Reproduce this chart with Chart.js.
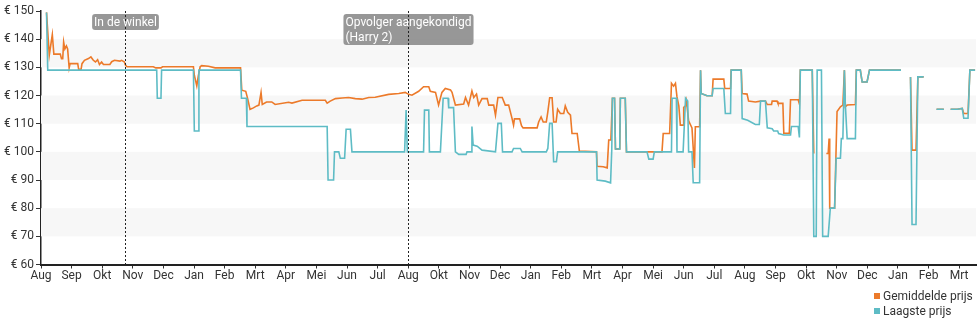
<!DOCTYPE html>
<html>
<head>
<meta charset="utf-8">
<script src="https://cdn.jsdelivr.net/npm/chart.js@4"></script>
<style>
  body { margin: 0; background: #fff; }
  #wrap { position: relative; width: 980px; height: 325px; }
  #legend {
    position: absolute; left: 874px; top: 289px;
    font: 12px Roboto, sans-serif; color: #333; line-height: 15px;
  }
  #legend span.sw { display: inline-block; width: 6px; height: 6px; margin-right: 3px; vertical-align: 1px; }
</style>
</head>
<body>
<div id="wrap">
  <canvas id="priceChart"></canvas>
  <div id="legend"></div>
</div>
<script>
// Maandlabels onder de as (één per tick)
const monthLabels = ['Aug','Sep','Okt','Nov','Dec','Jan','Feb','Mrt','Apr','Mei','Jun','Jul',
  'Aug','Okt','Nov','Dec','Jan','Feb','Mrt','Apr','Mei','Jun','Jul',
  'Aug','Sep','Okt','Nov','Dec','Jan','Feb','Mrt'];

const seriesNames = ['Gemiddelde prijs', 'Laagste prijs'];

// [maand-index, prijs in euro]; null = geen prijs bekend
const avgPrices = [
  [0.18,149.5],[0.27,134.3],[0.37,141.6],[0.42,134.7],[0.63,134.7],[0.67,133.1],[0.71,133.1],[0.74,139],[0.78,136.5],[0.83,137.6],[0.87,136.5],[0.92,129.8],[0.95,131.3],
  [1.20,131.3],[1.23,129.3],[1.31,129.3],[1.34,131.3],[1.42,132.5],[1.55,133.1],[1.63,133.7],[1.71,132.5],[1.78,131.9],[1.85,132.7],[1.91,131],[1.98,131.9],[2.04,131],[2.25,131],[2.31,132],[2.40,132.5],[2.58,132.2],[2.63,132.5],[2.72,132],[2.76,130.8],[2.81,130.2],
  [3.67,130.2],[3.75,129.8],[3.92,129.8],[3.97,130.2],[4.98,130.2],[5.01,127.2],[5.09,123.4],[5.14,127],[5.20,130.2],[5.25,130.6],[5.47,130.4],[5.69,129.8],
  [6.52,129.8],[6.56,121.9],[6.69,121.5],[6.75,119],[6.83,115.1],[6.94,115.6],[7.05,116.3],[7.12,116.6],[7.19,121.1],[7.23,116.8],[7.37,117.7],[7.54,117.7],[7.65,116.8],
  [8.09,117.6],[8.20,117.3],[8.53,118.3],[9.29,118.3],[9.35,117.3],[9.45,118],[9.62,118.9],[9.84,119.1],[10.05,119.3],[10.27,118.9],[10.49,118.7],[10.71,119.3],[10.92,119.4],
  [11.36,120.4],[11.69,120.7],[11.90,121.1],[12.01,120.4],[12.12,120.1],[12.34,121.5],[12.50,123.1],[12.67,123.1],[12.72,121.5],[12.89,121.1],[12.99,116.6],[13.10,121.1],[13.21,122.5],[13.38,122],[13.43,121.1],[13.54,116.6],[13.81,117],[13.87,119.3],[13.97,116.6],
  [14.08,121.6],[14.14,119.3],[14.23,120.5],[14.30,116.6],[14.41,118.9],[14.58,118.9],[14.63,116.6],[14.79,116.6],[14.85,113],[14.93,119.3],[15.07,119.3],[15.17,116.6],[15.28,116.6],[15.39,111.9],[15.44,109.5],[15.47,111.7],[15.64,111.7],[15.70,109.3],[15.75,108.5],
  [16.21,108.5],[16.26,110.6],[16.34,112.4],[16.41,110.6],[16.51,110.6],[16.56,114.2],[16.62,119.2],[16.70,119.2],[16.75,110.6],[16.83,110.6],[16.88,115.1],[16.97,113.6],[17.08,113.6],[17.13,116.3],[17.21,114],[17.30,113],[17.35,106.5],[17.52,106.5],[17.59,100.3],
  [18.15,100],[18.17,94.9],[18.37,94.7],[18.50,94.3],[18.55,104.2],[18.62,104.2],[18.67,119],[18.74,119],[18.77,101],[18.91,101],[18.93,119],[19.09,119],[19.13,100],
  [20.29,100],[20.33,106.5],[20.54,106.5],[20.60,124.3],[20.67,123.3],[20.73,124.3],[20.78,119.5],[20.84,116.3],[20.89,109.5],[20.98,109.5],[21.00,115.8],[21.06,116.3],[21.09,118],[21.16,111],[21.27,108.5],[21.35,94.3],[21.38,108.9],[21.52,108.9],
  [21.55,129],[21.57,120.7],[21.76,119.9],[21.93,119.9],[21.96,125.8],[22.31,125.8],[22.34,122.5],[22.53,122.5],[22.55,129],[22.88,129],[22.91,120.7],[23.07,120.5],
  [23.12,118],[23.34,117.7],[23.51,118],[23.67,118],[23.73,116.8],[23.87,116.8],[23.89,118],[24.05,118],[24.08,117.2],[24.24,117.2],[24.27,106.6],[24.45,106.6],[24.49,118.5],[24.74,118.5],[24.78,117],[24.81,129],
  [25.20,129],[25.25,99.4],[25.30,null],
  [25.66,99.4],[25.72,99.4],[25.75,104.7],[25.77,80],[25.93,80],[25.97,97],[26.01,114.3],[26.12,116],[26.20,116.6],[26.25,129],[26.28,116],[26.34,116.6],[26.61,116.8],[26.64,129],[26.77,129],[26.83,124.8],[26.99,124.8],[27.07,129],[28.10,129],[28.20,null],
  [28.41,126.6],[28.46,100.6],[28.59,100.6],[28.65,126.6],[28.84,126.6],[29.00,null],
  [29.26,115.1],[29.50,115.1],[29.60,null],
  [29.72,115.1],[29.94,115.1],[30.10,115.4],[30.15,113.6],[30.29,113.6],[30.35,129],[30.52,129]
];

const lowPrices = [
  [0.18,149.5],[0.22,129],
  [3.78,129],[3.80,119],[3.92,119],[3.94,129],
  [4.98,129],[5.01,107.4],[5.15,107.4],[5.16,129],
  [6.52,129],[6.55,119],[6.71,119],[6.73,109],
  [9.35,109],[9.38,90],[9.56,90],[9.59,100],[9.73,100],[9.78,97.7],[9.92,97.7],[9.97,108],[10.11,108],[10.16,100],
  [11.88,100],[11.93,114.8],[11.95,114.8],[11.97,100],
  [12.50,100],[12.53,114.8],[12.67,114.8],[12.69,100],
  [13.05,100],[13.14,119],[13.30,119],[13.32,115.7],[13.48,115.7],[13.54,100],[13.65,99.1],[13.89,99.1],[13.92,100],
  [14.06,100],[14.08,109],[14.12,102.4],[14.25,102],[14.41,100.6],[14.85,100],[14.93,110.1],[15.04,110.1],[15.08,100],
  [15.39,100],[15.44,101.2],[15.66,101.2],[15.72,100],
  [16.51,100],[16.56,101.2],[16.62,110.1],[16.70,110.1],[16.75,96.5],[16.84,96.5],[16.88,100],
  [18.15,100],[18.17,90],[18.44,89.6],[18.61,89],[18.65,101],[18.67,119],[18.74,119],[18.77,101],[18.91,101],[18.93,119],[19.09,119],[19.13,100],
  [19.80,100],[19.86,97.4],[20.00,97.4],[20.04,100],
  [20.60,100],[20.62,119],[20.76,119],[20.78,100],[20.98,100],[21.06,119],[21.13,118],[21.16,100],[21.27,100],[21.31,89],[21.52,89],
  [21.55,129],[21.57,120.7],[21.76,119.9],[21.93,119.9],[21.96,122.5],[22.31,122.5],[22.36,113.6],[22.53,113.6],[22.55,129],[22.88,129],[22.91,111.8],[23.09,111.2],
  [23.34,109.7],[23.47,109.7],[23.51,118],[23.67,118],[23.73,108.5],[23.89,108.2],[23.94,107.4],[24.07,107.4],[24.10,106.5],[24.27,106],[24.49,106],[24.52,109],[24.74,109],[24.78,105.1],[24.81,129],
  [25.20,129],[25.25,70],[25.33,70],[25.36,129],[25.50,129],[25.54,70],[25.72,70],[25.79,80],[25.93,80],[25.98,97.7],[26.12,97.7],[26.15,104.7],[26.20,104.7],[26.25,129],[26.28,117],[26.34,104.7],[26.61,104.7],[26.64,129],[26.77,129],[26.83,124.8],[26.99,124.8],[27.07,129],[28.10,129],[28.20,null],
  [28.41,126.6],[28.46,74.2],[28.59,74.2],[28.65,126.6],[28.84,126.6],[29.00,null],
  [29.26,115.1],[29.50,115.1],[29.60,null],
  [29.72,115.1],[29.94,115.1],[30.10,115.4],[30.15,111.9],[30.29,111.9],[30.35,129],[30.52,129]
];

// Gebeurtenissen met verticale stippellijn
const eventMonths = [2.76, 11.98];
const eventLabels = [['In de winkel'], ['Opvolger aangekondigd', '(Harry 2)']];

const COLOR_AVG = 'rgb(236,122,42)';
const COLOR_LOW = 'rgb(94,188,197)';
const FONT = 'Roboto, sans-serif';

// Grijze banden achter de grafiek
const bandsPlugin = {
    id: 'bands',
    beforeDatasetsDraw(chart) {
        const {ctx, chartArea: {left, right}, scales: {y}} = chart;
        ctx.save();
        ctx.fillStyle = '#f7f7f7';
        for (let v = 70; v < 150; v += 20) {
            const top = y.getPixelForValue(v + 10);
            const bottom = y.getPixelForValue(v);
            ctx.fillRect(left, top, right - left, bottom - top);
        }
        ctx.restore();
    }
};

// Stippellijnen + labels voor gebeurtenissen
const eventsPlugin = {
    id: 'events',
    afterDatasetsDraw(chart) {
        const {ctx, chartArea: {top, bottom}, scales: {x}} = chart;
        ctx.save();
        ctx.font = '12px ' + FONT;
        eventMonths.forEach((m, i) => {
            const px = Math.round(x.getPixelForValue(m)) + 0.5;
            const lines = eventLabels[i];
            const w = Math.max(...lines.map(t => ctx.measureText(t).width)) + 4;
            const h = lines.length * 15 + 1;
            const bx = px - w / 2;
            const by = top + 3;
            ctx.fillStyle = 'rgba(140,140,140,0.9)';
            ctx.beginPath();
            ctx.roundRect(bx, by, w, h, 3);
            ctx.fill();

            ctx.strokeStyle = '#222';
            ctx.lineWidth = 1;
            ctx.setLineDash([2, 2]);
            ctx.beginPath();
            ctx.moveTo(px, top);
            ctx.lineTo(px, bottom);
            ctx.stroke();
            ctx.setLineDash([]);

            ctx.fillStyle = '#fff';
            ctx.textBaseline = 'alphabetic';
            lines.forEach((t, j) => ctx.fillText(t, bx + 2, by + 12 + j * 15));
        });
        ctx.restore();
    }
};

const toXY = pts => pts.map(([x, y]) => ({x, y}));

new Chart(document.getElementById('priceChart'), {
    type: 'line',
    data: {
        datasets: [{
            label: seriesNames[0],
            data: toXY(avgPrices),
            borderColor: COLOR_AVG,
            borderWidth: 1.6,
            order: 1
        }, {
            label: seriesNames[1],
            data: toXY(lowPrices),
            borderColor: COLOR_LOW,
            borderWidth: 1.6,
            order: 0
        }]
    },
    options: {
        responsive: true,
        maintainAspectRatio: false,
        animation: false,
        spanGaps: false,
        elements: {
            point: { radius: 0 },
            line: { tension: 0 }
        },
        layout: { padding: { top: 11, right: 4, left: 0, bottom: 0 } },
        plugins: {
            legend: { display: false },
            tooltip: { enabled: false }
        },
        scales: {
            x: {
                type: 'linear',
                min: 0,
                max: 30.55,
                afterFit(scale) { scale.height = 60.5; },
                afterBuildTicks(scale) {
                    scale.ticks = monthLabels.map((_, i) => ({value: i}));
                },
                ticks: {
                    autoSkip: false,
                    maxRotation: 0,
                    padding: 0,
                    color: '#333',
                    font: { family: FONT, size: 12 },
                    callback: v => monthLabels[v]
                },
                grid: { drawOnChartArea: false, tickLength: 4, color: '#333' },
                border: { color: '#222', width: 2 }
            },
            y: {
                min: 60,
                max: 150,
                afterFit(scale) { scale.width = 41; },
                ticks: {
                    stepSize: 10,
                    padding: 2,
                    color: '#333',
                    font: { family: FONT, size: 12 },
                    callback: v => '€ ' + v
                },
                grid: { drawOnChartArea: false, tickLength: 5, color: '#333' },
                border: { color: '#222', width: 1.5 }
            }
        }
    },
    plugins: [bandsPlugin, eventsPlugin]
});

// Legenda rechtsonder
document.getElementById('legend').innerHTML = seriesNames.map((name, i) =>
    '<div><span class="sw" style="background:' + [COLOR_AVG, COLOR_LOW][i] + '"></span>' + name + '</div>'
).join('');
</script>
</body>
</html>
